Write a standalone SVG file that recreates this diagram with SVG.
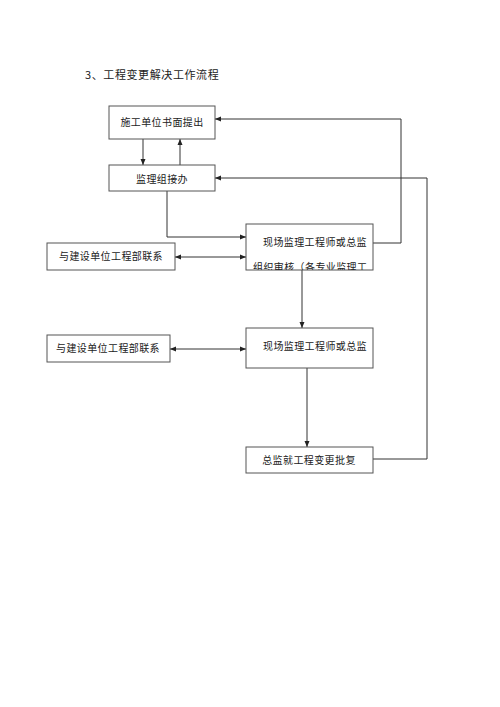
<svg xmlns="http://www.w3.org/2000/svg" width="500" height="707" viewBox="0 0 500 707">
<style>
.box{fill:#fff;stroke:#555;stroke-width:1}
.t{font-family:"Noto Sans CJK SC","Liberation Serif",serif;font-size:10px;fill:#222;letter-spacing:0.4px}
.c{fill:none;stroke:#333;stroke-width:1}
</style>
<defs>
<marker id="a" markerWidth="6" markerHeight="6" refX="6" refY="3" orient="auto" markerUnits="userSpaceOnUse"><path d="M0,0.5 L6,3 L0,5.5 z" fill="#222"/></marker>
<marker id="s" markerWidth="6" markerHeight="6" refX="0" refY="3" orient="auto" markerUnits="userSpaceOnUse"><path d="M6,0.5 L0,3 L6,5.5 z" fill="#222"/></marker>
<clipPath id="cl3"><rect x="246" y="224" width="127" height="46"/></clipPath>
</defs>
<rect width="500" height="707" fill="#fff"/>
<text x="85" y="79" font-family="'Noto Sans CJK SC','Liberation Serif',serif" font-size="11" fill="#222" letter-spacing="0.6">3、工程变更解决工作流程</text>
<g id="connectors">
<path class="c" d="M143,139 V165" marker-end="url(#a)"/>
<path class="c" d="M180,165 V139" marker-end="url(#a)"/>
<path class="c" d="M167,191 V237 H246" marker-end="url(#a)"/>
<path class="c" d="M175,257 H246" marker-start="url(#s)" marker-end="url(#a)"/>
<path class="c" d="M373,243 H401 V119 H215" marker-end="url(#a)"/>
<path class="c" d="M302,270 V328" marker-end="url(#a)"/>
<path class="c" d="M170,349 H246" marker-start="url(#s)" marker-end="url(#a)"/>
<path class="c" d="M307,368 V447" marker-end="url(#a)"/>
<path class="c" d="M373,459 H427 V178 H215" marker-end="url(#a)"/>
</g>
<g id="n1"><rect class="box" x="109" y="106" width="106" height="33"/><text class="t" x="162" y="126" text-anchor="middle">施工单位书面提出</text></g>
<g id="n2"><rect class="box" x="109" y="165" width="106" height="26"/><text class="t" x="162" y="183" text-anchor="middle">监理组接办</text></g>
<g id="n3"><rect class="box" x="246" y="224" width="127" height="46"/><g clip-path="url(#cl3)"><text class="t" x="263" y="246">现场监理工程师或总监</text><text class="t" x="253" y="271">组织审核（各专业监理工</text></g></g>
<g id="n4"><rect class="box" x="47" y="243" width="128" height="27"/><text class="t" x="111" y="260" text-anchor="middle">与建设单位工程部联系</text></g>
<g id="n5"><rect class="box" x="246" y="328" width="127" height="40"/><text class="t" x="263" y="350">现场监理工程师或总监</text></g>
<g id="n6"><rect class="box" x="47" y="335" width="123" height="27"/><text class="t" x="108" y="352" text-anchor="middle">与建设单位工程部联系</text></g>
<g id="n7"><rect class="box" x="246" y="447" width="127" height="26"/><text class="t" x="309" y="464" text-anchor="middle">总监就工程变更批复</text></g>
</svg>
